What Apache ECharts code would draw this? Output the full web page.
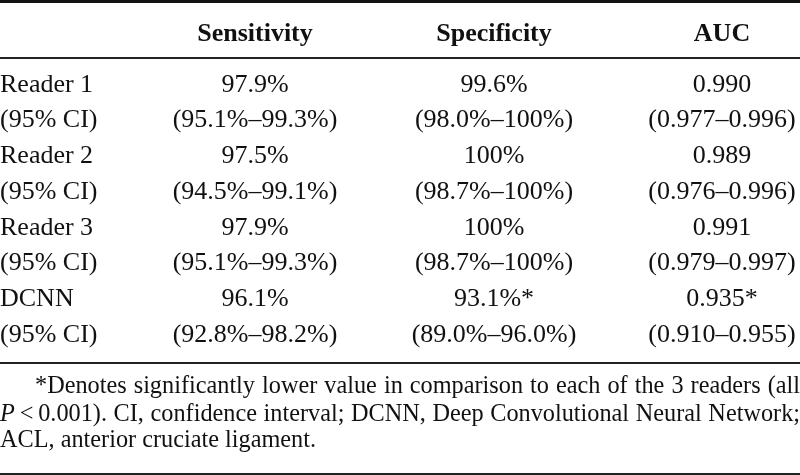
<!DOCTYPE html>
<html>
<head>
<meta charset="utf-8">
<script src="https://cdn.jsdelivr.net/npm/echarts@6/dist/echarts.min.js"></script>
<style>html,body{margin:0;padding:0;background:#fff}#c{width:800px;height:475px}</style>
</head>
<body>
<div id="c"></div>
<script>
const rowLabels = ['Reader 1','(95% CI)','Reader 2','(95% CI)','Reader 3','(95% CI)','DCNN','(95% CI)'];
const headers = ['Sensitivity','Specificity','AUC'];
const sensitivity = ['97.9%','(95.1%–99.3%)','97.5%','(94.5%–99.1%)','97.9%','(95.1%–99.3%)','96.1%','(92.8%–98.2%)'];
const specificity = ['99.6%','(98.0%–100%)','100%','(98.7%–100%)','100%','(98.7%–100%)','93.1%*','(89.0%–96.0%)'];
const auc = ['0.990','(0.977–0.996)','0.989','(0.976–0.996)','0.991','(0.979–0.997)','0.935*','(0.910–0.955)'];
const footnoteLines = [
  ['*Denotes','significantly','lower','value','in','comparison','to','each','of','the','3','readers','(all'],
  ['{i|P}\u2009<\u20090.001).','CI,','confidence','interval;','DCNN,','Deep','Convolutional','Neural','Network;'],
  ['ACL,','anterior','cruciate','ligament.']
];

// layout (not data)
const FONT = '"Liberation Serif","Times New Roman",serif';
const colX = [255, 494, 722];
const columns = [sensitivity, specificity, auc];
const TXT = '#111';

const chart = echarts.init(document.getElementById('c'), null, {renderer:'canvas'});

function textItem(texts, bold, align){
  return function(params, api){
    const p = api.coord([api.value(0), api.value(1)]);
    return {type:'text', x:p[0], y:p[1], style:{
      text: texts[params.dataIndex], fill: TXT, align: align || 'center', verticalAlign:'middle',
      font: (bold?'bold ':'') + '26px ' + FONT }};
  };
}

const series = [];
// row labels, left aligned at the table's left edge
series.push({type:'custom', xAxisIndex:0, yAxisIndex:0, silent:true,
  data: rowLabels.map((t,i)=>[0, i]), renderItem: textItem(rowLabels, false, 'left'),
  encode:{x:0,y:1}});
columns.forEach((col, c) => {
  series.push({type:'custom', xAxisIndex:0, yAxisIndex:0, silent:true,
    data: col.map((t,i)=>[colX[c], i]), renderItem: textItem(col, false),
    encode:{x:0,y:1}});
});
series.push({type:'custom', xAxisIndex:1, yAxisIndex:1, silent:true,
  data: headers.map((h,c)=>[colX[c], 0]), renderItem: textItem(headers, true),
  encode:{x:0,y:1}});

// footnote, justified word by word
const FS = 26;
const ctx = document.createElement('canvas').getContext('2d');
function measure(w){
  if (w.indexOf('{i|')===0){
    ctx.font = 'italic '+FS+'px ' + FONT;
    const a = ctx.measureText('P').width;
    ctx.font = FS+'px ' + FONT;
    return a + ctx.measureText(w.replace('{i|P}','')).width;
  }
  ctx.font = FS+'px ' + FONT;
  return ctx.measureText(w).width;
}
const lastW = measure(footnoteLines[2].join(' '));
const SX = 316 / lastW;
const footY = [386, 414, 440];
const footStart = [35, 0, 0];
const footEnd = [800, 800, null];
const graphic = [
  {type:'rect', shape:{x:0,y:0,width:800,height:3}, style:{fill:'#111'}},
  {type:'rect', shape:{x:0,y:57,width:800,height:2}, style:{fill:'#222'}},
  {type:'rect', shape:{x:0,y:362,width:800,height:2}, style:{fill:'#222'}},
  {type:'rect', shape:{x:0,y:473,width:800,height:2}, style:{fill:'#222'}}
];
footnoteLines.forEach((words, li) => {
  const ws = words.map(w => measure(w) * SX);
  const total = ws.reduce((a,b)=>a+b,0);
  const space = measure(' ') * SX;
  const gap = footEnd[li] ? (footEnd[li]-footStart[li]-total)/(words.length-1) : space;
  let x = footStart[li];
  words.forEach((w, k) => {
    graphic.push({type:'text', x:x, y:footY[li], scaleX:SX, silent:true, style:{
      text:w, fill:TXT, font:FS+'px '+FONT, align:'left', verticalAlign:'middle',
      rich:{i:{fontStyle:'italic', fontSize:FS, fontFamily:FONT, fill:TXT}} }});
    x += ws[k] + gap;
  });
});

chart.setOption({
  animation:false,
  backgroundColor:'#fff',
  grid:[
    {left:0, right:0, top:67, height:286},
    {left:0, right:0, top:14, height:40}
  ],
  xAxis:[
    {type:'value', gridIndex:0, min:0, max:800, show:false},
    {type:'value', gridIndex:1, min:0, max:800, show:false}
  ],
  yAxis:[
    {type:'category', gridIndex:0, data:rowLabels, inverse:true, show:false},
    {type:'category', gridIndex:1, data:['header'], show:false}
  ],
  series: series,
  graphic: graphic
});
</script>
</body>
</html>
